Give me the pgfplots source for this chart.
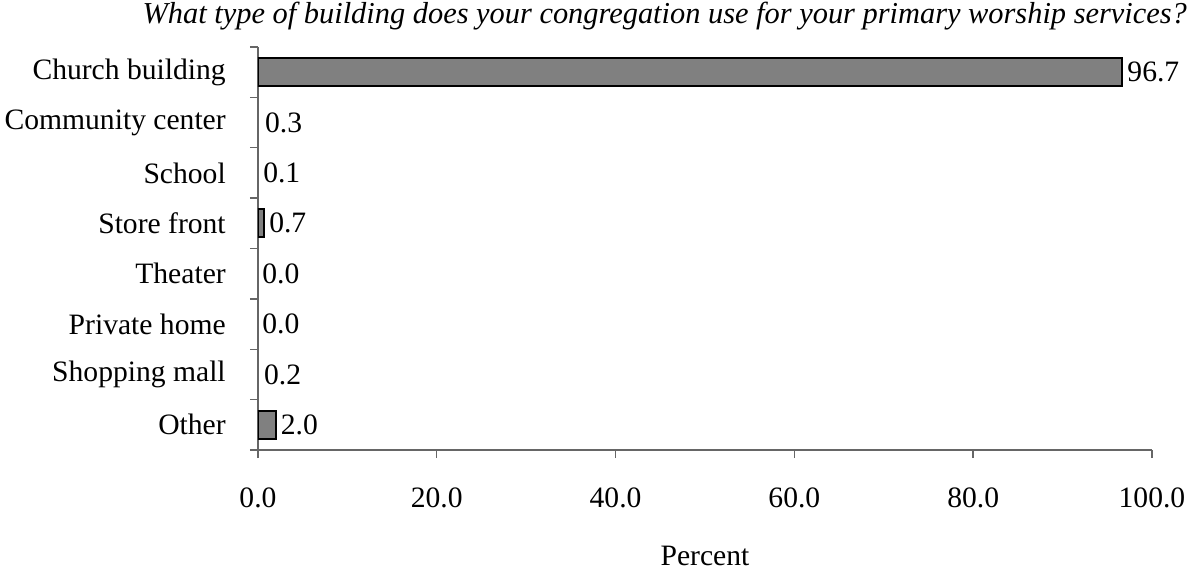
\documentclass[border=0pt]{standalone}
\usepackage{pgfplots}
\pgfplotsset{compat=1.18}
\usepackage{fontspec}
\setmainfont{Liberation Serif}
\begin{document}
\begin{tikzpicture}
\fontsize{14.8}{17}\selectfont
\path[use as bounding box] (-129pt,-59.5pt) rectangle (469pt,225pt);
\begin{axis}[
  at={(0,0)}, anchor=south west,
  scale only axis, width=447pt, height=201.5pt,
  xbar, bar width=0.556, bar shift=0pt,
  xmin=0, xmax=100,
  ymin=-0.5, ymax=7.5,
  axis x line*=bottom, axis y line*=left,
  axis line style={black!60, line width=0.7pt},
  tick align=outside,
  major tick length=4pt, minor tick length=4pt,
  xtick={0,20,...,100},
  ytick={0,...,7},
  yticklabels={Other,Shopping mall,Private home,Theater,Store front,School,Community center,Church building},
  minor ytick={-0.5,0.5,...,7.5},
  every major y tick/.style={draw=none},
  every tick/.style={black!60, line width=0.7pt},
  /pgf/number format/assume math mode=true,
  xticklabel={\pgfmathprintnumber[fixed,fixed zerofill,precision=1]{\tick}},
  xticklabel style={yshift=-10pt, font=\fontsize{14.8}{17}\selectfont},
  yticklabel style={xshift=-7pt, font=\fontsize{14.8}{17}\selectfont},
  xlabel={Percent},
  xlabel style={at={(rel axis cs:0.5,0)}, anchor=center, yshift=-53pt, font=\fontsize{14.8}{17}\selectfont},
  title={What type of building does your congregation use for your primary worship services?},
  title style={at={(rel axis cs:0.455,1)}, anchor=center, yshift=9.5pt, font=\itshape\fontsize{15.2}{17}\selectfont},
  nodes near coords={\pgfmathprintnumber[fixed,fixed zerofill,precision=1]{\pgfplotspointmeta}},
  nodes near coords style={anchor=west, inner sep=2pt, font=\fontsize{14.8}{17}\selectfont, black},
]
\addplot[fill=black!50, draw=black, line width=1pt] coordinates {
  (96.7,7) (0.7,4) (2.0,0)
};
\addplot[fill=none, draw=none] coordinates {
  (0.3,6) (0.1,5) (0.0,3) (0.0,2) (0.2,1)
};
\end{axis}
\end{tikzpicture}
\end{document}
